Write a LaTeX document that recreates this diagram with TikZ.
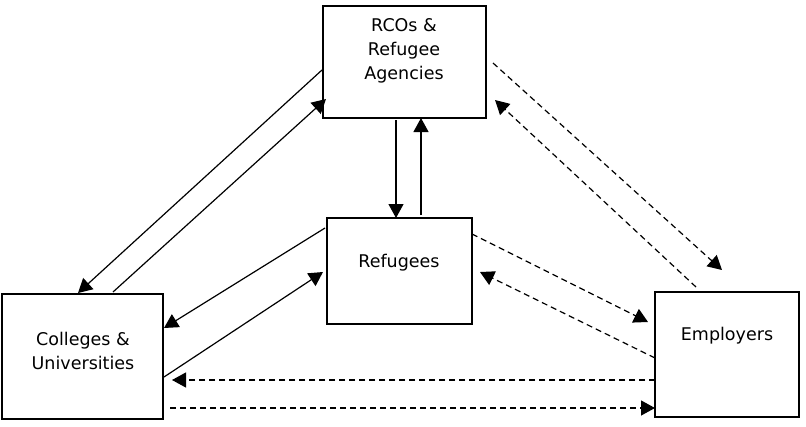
\documentclass[tikz,border=0pt]{standalone}
\usepackage{fontspec}
\setmainfont{DejaVu Sans}
\usetikzlibrary{arrows.meta,calc}
\begin{document}
\begin{tikzpicture}[x=1pt,y=-1pt,
  box/.style={draw,line width=1.6pt,inner sep=0pt,outer sep=0pt},
  lbl/.style={align=center,inner sep=0pt,font=\fontsize{17.5}{24}\selectfont},
  link/.style={line width=1.2pt,-{Triangle[length=14pt,width=15pt]}},
  dlink/.style={link,dash pattern=on 6pt off 4pt},
  ]
\useasboundingbox (0,0) rectangle (806,426);
\node[box,minimum width=163pt,minimum height=112pt] (rco) at (404.5,62) {};
\node[box,minimum width=145pt,minimum height=106pt] (ref) at (399.5,271) {};
\node[box,minimum width=161pt,minimum height=125pt] (col) at (82.5,356.5) {};
\node[box,minimum width=144pt,minimum height=125pt] (emp) at (727,354.5) {};
\node[lbl] (rcot) at (404,51) {RCOs \&\\Refugee\\Agencies};
\node[lbl] (reft) at (399,263) {Refugees};
\node[lbl] (colt) at (83,351) {Colleges \&\\Universities};
\node[lbl] (empt) at (727,336) {Employers};
% solid links
\draw[link] ($(rco.north west)+(-1,64)$) -- ($(col.north west)+(76,-1)$);
\draw[link] ($(col.north west)+(111,-2)$) -- ($(rco.north west)+(3,93)$);
\draw[link] ($(rco.south west)+(73,2)$) -- ($(ref.north west)+(69,0)$);
\draw[link] ($(ref.north west)+(94,-3)$) -- ($(rco.south west)+(98,0)$);
\draw[link] ($(ref.north west)+(-2,10)$) -- ($(col.north east)+(1,34)$);
\draw[link] ($(col.north east)+(1,83)$) -- ($(ref.north west)+(-4,54)$);
% dashed links
\draw[dlink] ($(rco.north east)+(7,57)$) -- ($(emp.north west)+(67,-22)$);
\draw[dlink] ($(emp.north west)+(41,-5)$) -- ($(rco.north east)+(9,94)$);
\draw[dlink] ($(ref.north east)+(0,16)$) -- ($(emp.north west)+(-7,30)$);
\draw[dlink] ($(emp.north west)+(0,66)$) -- ($(ref.north east)+(8,54)$);
\draw[dlink] ($(emp.north west)+(0,88)$) -- ($(col.north east)+(9,86)$);
\draw[dlink] ($(col.north east)+(7,114)$) -- ($(emp.north west)+(0,116)$);
\end{tikzpicture}
\end{document}
